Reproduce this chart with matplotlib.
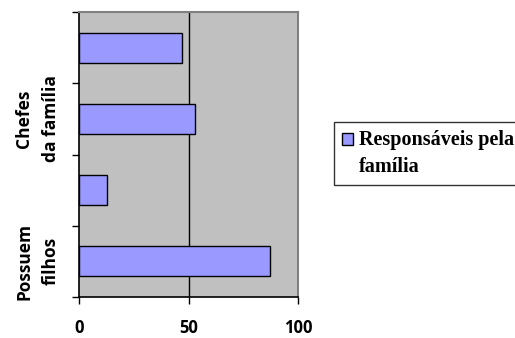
import numpy as np
import matplotlib.pyplot as plt
from matplotlib.patches import Patch

# categories from bottom to top; only every other one gets a label
categories = ["Possuem\nfilhos", "", "Chefes\nda família", ""]
values = [87, 13, 53, 47]
series_name = "Responsáveis pela\nfamília"
xticks = [0, 50, 100]

fig = plt.figure(figsize=(5.15, 3.38), dpi=100)
ax = fig.add_axes([79 / 515, 41 / 338, 219 / 515, 285 / 338])
ax.set_facecolor("#C0C0C0")

pos = np.arange(len(values))
ax.barh(pos, values, height=0.42, color="#9999FF", edgecolor="black", linewidth=1, zorder=3)

ax.set_xlim(0, 100)
ax.set_ylim(-0.5, len(values) - 0.5)
ax.set_xticks(xticks)
ax.set_xticklabels([str(t) for t in xticks], fontsize=12, fontweight="bold", family="Open Sans")
ax.tick_params(axis="x", length=5, width=1, pad=11)
for v in xticks[1:-1]:
    ax.axvline(v, color="black", linewidth=1, zorder=2)

# boundary ticks between categories, labels at category centres
ax.set_yticks(np.arange(-0.5, len(values), 1.0))
ax.set_yticklabels([])
ax.tick_params(axis="y", which="major", length=5, width=1)
ax.set_yticks(pos, minor=True)
ax.set_yticklabels(categories, minor=True, rotation=90, va="center", ha="center",
                   fontsize=12.5, fontweight="bold", family="Open Sans", linespacing=1.6)
ax.tick_params(axis="y", which="minor", length=0, pad=30)

for s in ["left", "bottom"]:
    ax.spines[s].set_color("black")
    ax.spines[s].set_linewidth(1.2)
for s in ["top", "right"]:
    ax.spines[s].set_color("#808080")
    ax.spines[s].set_linewidth(1.5)

fs = 14.5
handle = Patch(facecolor="#9999FF", edgecolor="black", linewidth=1)
leg = fig.legend([handle], [series_name], loc="upper left", bbox_to_anchor=(334 / 515, 1 - 122 / 338),
                 frameon=True, fancybox=False, borderaxespad=0, handlelength=0.55, handleheight=0.55,
                 handletextpad=0.3, borderpad=0.4, labelspacing=0,
                 prop={"family": "Liberation Serif", "weight": "bold", "size": fs})
leg.get_frame().set_edgecolor("black")
leg.get_frame().set_linewidth(1)
leg.get_texts()[0].set_linespacing(1.45)
# lift the swatch to sit beside the first line of the label
sw = leg.legend_handles[0]
sw.set_y(sw.get_y() + 0.75 * fs)

fig.savefig("out.png", dpi=100)
